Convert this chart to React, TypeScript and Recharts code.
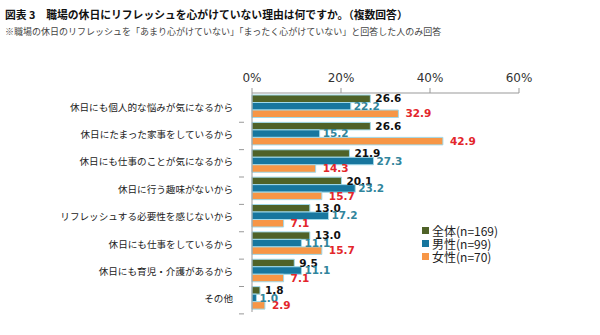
import React from 'react';
import { BarChart, Bar, XAxis, YAxis, LabelList } from 'recharts';

const categories = [
  '休日にも個人的な悩みが気になるから',
  '休日にたまった家事をしているから',
  '休日にも仕事のことが気になるから',
  '休日に行う趣味がないから',
  'リフレッシュする必要性を感じないから',
  '休日にも仕事をしているから',
  '休日にも育児・介護があるから',
  'その他',
];
const totalValues = [26.6, 26.6, 21.9, 20.1, 13.0, 13.0, 9.5, 1.8];
const maleValues = [22.2, 15.2, 27.3, 23.2, 17.2, 11.1, 11.1, 1.0];
const femaleValues = [32.9, 42.9, 14.3, 15.7, 7.1, 15.7, 7.1, 2.9];
const seriesNames = ['全体(n=169)', '男性(n=99)', '女性(n=70)'];
const seriesColors = ['#4f6228', '#17769e', '#f79646'];
const xTicks = [0, 20, 40, 60];

const data = categories.map((c, i) => ({
  name: c,
  total: totalValues[i],
  male: maleValues[i],
  female: femaleValues[i],
}));

const JP = '"Noto Sans CJK JP", "Noto Sans", sans-serif';
const NUM = '"DejaVu Sans", Verdana, sans-serif';

const PLOT_TOP = 63;
const PLOT_BOTTOM = 312;
const BAND = (PLOT_BOTTOM - PLOT_TOP) / categories.length;

const YTick = (props: any) => {
  const { x, y, payload } = props;
  return (
    <g>
      <text x={x - 11} y={y} dy={4} textAnchor="end" fontFamily={JP} fontSize={9.6} fill="#222">
        {payload.value}
      </text>
      <line x1={x - 5} x2={x} y1={y + BAND / 2} y2={y + BAND / 2} stroke="#999" />
    </g>
  );
};

const fmt = (v: number) => v.toFixed(1);

export default function App() {
  return (
    <div style={{ position: 'absolute', left: 0, top: 0, width: 600, height: 335, background: '#fff', overflow: 'hidden' }}>
      <div style={{ position: 'absolute', left: 5, top: 6, fontFamily: JP, fontWeight: 700, fontSize: 10.8, color: '#111', whiteSpace: 'nowrap' }}>
        図表 3　職場の休日にリフレッシュを心がけていない理由は何ですか。（複数回答）
      </div>
      <div style={{ position: 'absolute', left: 5, top: 25, fontFamily: JP, fontSize: 9, color: '#444', whiteSpace: 'nowrap' }}>
        ※職場の休日のリフレッシュを「あまり心がけていない」「まったく心がけていない」と回答した人のみ回答
      </div>
      <div style={{ position: 'absolute', left: 0, top: 0 }}>
        <BarChart
          width={600}
          height={335}
          data={data}
          layout="vertical"
          margin={{ top: PLOT_TOP, right: 81, bottom: 335 - PLOT_BOTTOM, left: 0 }}
          barSize={7.5}
          barGap={0}
        >
          <XAxis
            type="number"
            orientation="top"
            domain={[0, 60]}
            ticks={xTicks}
            tickFormatter={(v: number) => `${v}%`}
            axisLine={{ stroke: '#999' }}
            tickLine={{ stroke: '#999' }}
            tickSize={5}
            tick={{ fontFamily: NUM, fontSize: 12, fill: '#333' }}
            tickMargin={6}
            interval={0}
          />
          <YAxis
            type="category"
            dataKey="name"
            width={252}
            axisLine={{ stroke: '#999' }}
            tickLine={false}
            tick={<YTick />}
            interval={0}
          />
          <Bar dataKey="total" name={seriesNames[0]} fill={seriesColors[0]} stroke="#9fd9ea" strokeWidth={1} isAnimationActive={false}>
            <LabelList dataKey="total" position="right" offset={5} formatter={fmt} fill="#111" fontFamily={NUM} fontWeight={700} fontSize={10.5} />
          </Bar>
          <Bar dataKey="male" name={seriesNames[1]} fill={seriesColors[1]} stroke="#9fd9ea" strokeWidth={1} isAnimationActive={false}>
            <LabelList dataKey="male" position="right" offset={3} formatter={fmt} fill="#31859c" fontFamily={NUM} fontWeight={700} fontSize={10.5} />
          </Bar>
          <Bar dataKey="female" name={seriesNames[2]} fill={seriesColors[2]} stroke="#9fd9ea" strokeWidth={1} isAnimationActive={false}>
            <LabelList dataKey="female" position="right" offset={7} formatter={fmt} fill="#e3262b" fontFamily={NUM} fontWeight={700} fontSize={10.5} />
          </Bar>
        </BarChart>
      </div>
      <div style={{ position: 'absolute', left: 422, top: 224, fontFamily: JP, fontSize: 12, color: '#222' }}>
        {seriesNames.map((n, i) => (
          <div key={n} style={{ display: 'flex', alignItems: 'center', height: 13, lineHeight: '13px', whiteSpace: 'nowrap' }}>
            <span style={{ display: 'inline-block', width: 7, height: 7, background: seriesColors[i], marginRight: 3 }} />
            <span>{n}</span>
          </div>
        ))}
      </div>
    </div>
  );
}
